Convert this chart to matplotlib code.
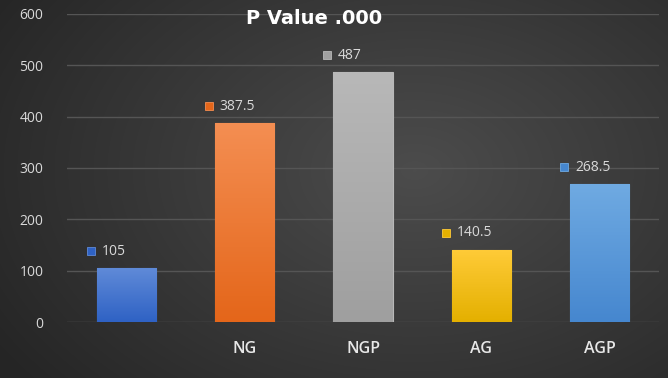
import numpy as np
import matplotlib.pyplot as plt
from matplotlib.colors import LinearSegmentedColormap

categories = ["", "NG", "NGP", "AG", "AGP"]
values = [105, 387.5, 487, 140.5, 268.5]
value_labels = ["105", "387.5", "487", "140.5", "268.5"]
title = "P Value .000"

# top colour, bottom colour for each bar
bar_colors = [("#5f8ad8", "#2f62c4"), ("#f48e52", "#e4661a"), ("#b8b8b8", "#9f9f9f"),
              ("#ffcb38", "#e4b000"), ("#6faae2", "#4687cf")]

plt.rcParams['font.family'] = ['Open Sans', 'DejaVu Sans']

fig = plt.figure(figsize=(6.68, 3.78), dpi=100)

# background: soft radial gradient
h, w = 378, 668
yy, xx = np.mgrid[0:h, 0:w]
r = np.sqrt(((xx - 0.62 * w) / (0.75 * w)) ** 2 + ((yy - 0.45 * h) / (0.9 * h)) ** 2)
r = np.clip(r, 0, 1)
bg_cmap = LinearSegmentedColormap.from_list("bg", ["#4c4c4c", "#252525"])
fig.figimage(bg_cmap(r), xo=0, yo=0, origin="upper", zorder=-10)

ax = fig.add_axes([67 / 668, 1 - 322 / 378, 592 / 668, 308 / 378])
ax.set_facecolor("none")

x = np.arange(len(categories))
bars = ax.bar(x, values, width=0.5, zorder=3, linewidth=0.8)

for b, (top, bot) in zip(bars, bar_colors):
    b.set_facecolor(bot)
    b.set_edgecolor(top)
    cmap = LinearSegmentedColormap.from_list("g", [bot, top])
    grad = np.linspace(0, 1, 100).reshape(-1, 1)
    bx, by = b.get_x(), b.get_y()
    im = ax.imshow(grad, cmap=cmap, origin="lower", aspect="auto",
                   extent=[bx, bx + b.get_width(), by, by + b.get_height()], zorder=3)
    im.set_clip_path(b)

ax.set_xlim(-0.5, 4.5)
ax.set_ylim(0, 600)

for i, (v, lab) in enumerate(zip(values, value_labels)):
    ax.plot(i - 0.30, v + 33, marker="s", markersize=5.5, color=bar_colors[i][1],
            markeredgecolor=bar_colors[i][0], markeredgewidth=0.6, zorder=4, clip_on=False)
    ax.text(i - 0.21, v + 33, lab, color="#d9d9d9", fontsize=10, va="center", ha="left")

ax.set_yticks(range(0, 601, 100))
ax.grid(axis="y", color="#555555", linewidth=1, zorder=0)
for s in ax.spines.values():
    s.set_visible(False)
ax.tick_params(axis="y", length=0, colors="#d9d9d9", labelsize=10, pad=17)
ax.tick_params(axis="x", length=0, colors="#e8e8e8", labelsize=11.5, pad=14)
ax.set_xticks(x)
ax.set_xticklabels(categories, fontweight="semibold")

fig.text(314 / 668, 1 - 18 / 378, title, color="white", fontsize=14, fontweight="bold",
         ha="center", va="center", family="DejaVu Sans")

fig.savefig("out.png", dpi=100)
